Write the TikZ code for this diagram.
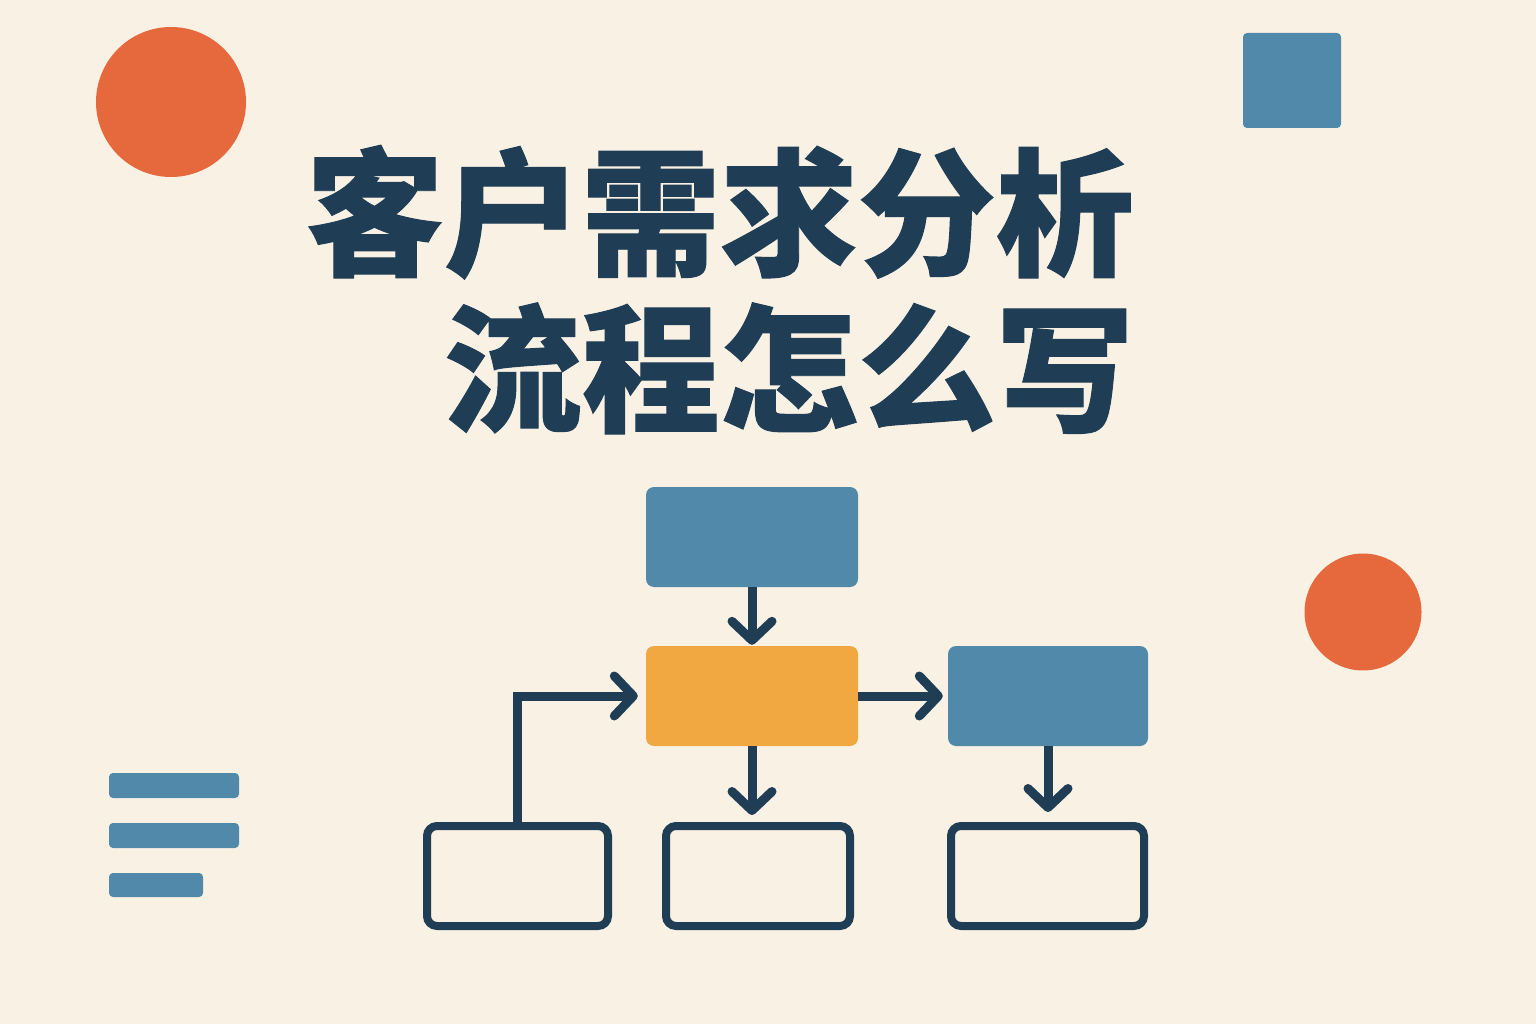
\documentclass[tikz,border=0pt]{standalone}
\usepackage{fontspec}
\newfontfamily\cjk[BoldFeatures={FakeBold=0.7}]{Noto Sans CJK SC}
\usetikzlibrary{arrows.meta}
\definecolor{bgcol}{HTML}{FAF1E5}
\definecolor{blueC}{HTML}{5189AB}
\definecolor{orangeC}{HTML}{E5693D}
\definecolor{ambC}{HTML}{F2A840}
\definecolor{navyC}{HTML}{1F3E55}
\tikzset{
  fillbox/.style={rectangle, rounded corners=8pt, inner sep=0pt, draw=none},
  outbox/.style={rectangle, rounded corners=10pt, inner sep=0pt, draw=navyC, line width=8pt, fill=bgcol},
  conn/.style={draw=navyC, line width=9pt, -{Straight Barb[length=19pt,width=40pt,round]}},
  titletext/.style={inner sep=0pt, text=navyC, font=\cjk\bfseries\fontsize{138}{155}\selectfont}
}
\begin{document}
\begin{tikzpicture}[x=1pt,y=-1pt]
\fill[bgcol] (0,0) rectangle (1536,1024);
\useasboundingbox (0,0) rectangle (1536,1024);
% decorations
\fill[orangeC] (171,102) circle[radius=75];
\fill[orangeC] (1363,612) circle[radius=58.5];
\fill[blueC, rounded corners=4pt] (1243,33) rectangle (1341,128);
\fill[blueC, rounded corners=4pt] (109,773) rectangle (239,798);
\fill[blueC, rounded corners=4pt] (109,823) rectangle (239,848);
\fill[blueC, rounded corners=4pt] (109,873) rectangle (203,897);
% title
\node[titletext, anchor=base east] (t1) at (1134,265) {客户需求分析};
\node[titletext, anchor=base east] (t2) at (1134,421) {流程怎么写};
% flowchart
\node[fillbox, fill=blueC, minimum width=212pt, minimum height=100pt] (top) at (752,537) {};
\node[fillbox, fill=ambC, minimum width=212pt, minimum height=100pt] (mid) at (752,696) {};
\node[fillbox, fill=blueC, minimum width=200pt, minimum height=100pt] (rgt) at (1048,696) {};
\node[outbox, minimum width=181pt, minimum height=100pt] (bl) at (517.5,876) {};
\node[outbox, minimum width=184pt, minimum height=100pt] (bm) at (758,876) {};
\node[outbox, minimum width=193pt, minimum height=100pt] (br) at (1047.5,876) {};
\draw[conn, shorten >=1pt] (top.south) -- (mid.north);
\draw[conn, shorten >=7pt] (mid.south) -- (mid.south |- bm.north);
\draw[conn, shorten >=5pt] (mid.east) -- (rgt.west);
\draw[conn, shorten >=10pt] (rgt.south) -- (rgt.south |- br.north);
\draw[conn, shorten >=8pt] (bl.north) |- (mid.west);
\end{tikzpicture}
\end{document}
